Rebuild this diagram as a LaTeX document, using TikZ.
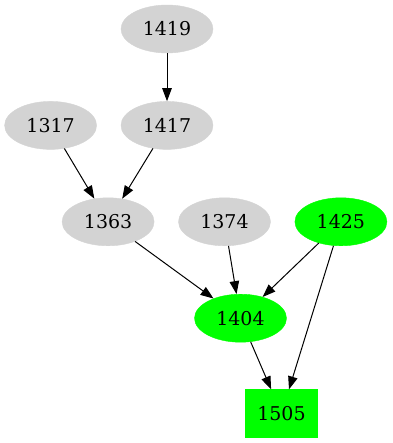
\documentclass[tikz,border=0pt]{standalone}
\usepackage{fontspec}
\setmainfont{DejaVu Serif}
\usetikzlibrary{positioning, shapes.geometric, arrows.meta}

\begin{document}
\begin{tikzpicture}[
    x=1pt, y=1pt,
    >={Triangle[length=13pt, width=9.5pt]},
    node distance=48pt and 24pt,
    arrow/.style={
        ->,
        line width=1pt,
        black
    },
    job/.style={
        ellipse,
        fill=lightgray,
        draw=lightgray,
        minimum width=92pt,
        minimum height=48pt,
        inner sep=0pt,
        font=\fontsize{19}{19}\selectfont
    },
    done/.style={
        job,
        fill=hitgreen,
        draw=hitgreen
    },
    target/.style={
        rectangle,
        fill=hitgreen,
        draw=hitgreen,
        minimum width=72pt,
        minimum height=48pt,
        inner sep=0pt,
        font=\fontsize{19}{19}\selectfont
    }
]
\definecolor{lightgray}{HTML}{D3D3D3}
\definecolor{hitgreen}{HTML}{00FF00}

    \useasboundingbox (0,0) rectangle (392,-443);

    % Top rows
    \node[job] (n1419) at (167,-29) {1419};
    \node[job, below=of n1419] (n1417) {1417};
    \node[job, left=of n1417] (n1317) {1317};

    % Middle row
    \node[job, below=of n1317, xshift=57.5pt] (n1363) {1363};
    \node[job, right=of n1363] (n1374) {1374};
    \node[done, right=of n1374] (n1425) {1425};

    % Bottom
    \node[done, below=of n1374, xshift=16pt] (n1404) {1404};
    \node[target, below=47pt of n1404, xshift=41pt] (n1505) {1505};

    % Connections
    \draw[arrow] (n1419) -- (n1417);
    \draw[arrow] (n1317) -- (n1363);
    \draw[arrow] (n1417) -- (n1363);
    \draw[arrow] (n1363) -- (n1404);
    \draw[arrow] (n1374) -- (n1404);
    \draw[arrow] (n1425) -- (n1404);
    \draw[arrow] (n1404) -- (n1505);
    \draw[arrow] (n1425) -- (n1505);

\end{tikzpicture}
\end{document}
